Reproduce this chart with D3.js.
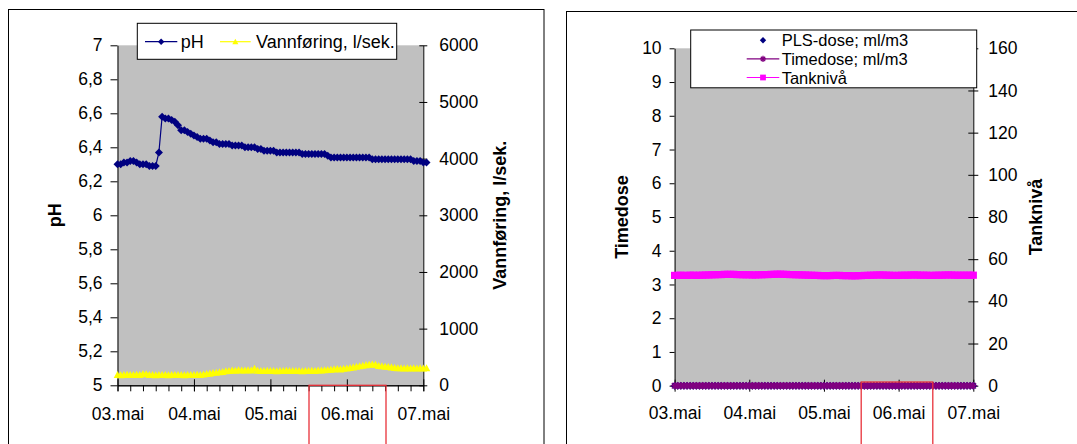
<!DOCTYPE html>
<html><head><meta charset="utf-8">
<script src="https://cdn.jsdelivr.net/npm/d3@7"></script>
<style>
body{margin:0;background:#fff;}
svg text{font-family:Arial,"Liberation Sans",sans-serif;fill:#000;}
</style>
</head><body>
<svg id="c" width="1077" height="444"></svg>
<script>
// ---- data ----
const startTime = new Date(2007, 4, 3, 0, 0);   // first hourly reading 03.mai 00:00
const dayLabels = ["03.mai", "04.mai", "05.mai", "06.mai", "07.mai"];
const phTicks = [5, 5.2, 5.4, 5.6, 5.8, 6, 6.2, 6.4, 6.6, 6.8, 7];
const flowTicks = [0, 1000, 2000, 3000, 4000, 5000, 6000];
const doseTicks = [0, 1, 2, 3, 4, 5, 6, 7, 8, 9, 10];
const tankTicks = [0, 20, 40, 60, 80, 100, 120, 140, 160];

const phValues = [6.30,6.30,6.31,6.31,6.32,6.32,6.31,6.30,6.30,6.30,
 6.29,6.29,6.29,6.37,6.58,6.57,6.57,6.56,6.55,6.53,
 6.50,6.50,6.49,6.48,6.47,6.46,6.45,6.45,6.45,6.44,
 6.43,6.43,6.42,6.42,6.42,6.42,6.41,6.41,6.41,6.41,
 6.40,6.40,6.40,6.40,6.39,6.39,6.38,6.38,6.38,6.38,
 6.37,6.37,6.37,6.37,6.37,6.37,6.37,6.37,6.36,6.36,
 6.36,6.36,6.36,6.36,6.36,6.36,6.35,6.34,6.34,6.34,
 6.34,6.34,6.34,6.34,6.34,6.34,6.34,6.34,6.34,6.34,
 6.33,6.33,6.33,6.33,6.33,6.33,6.33,6.33,6.33,6.33,
 6.33,6.33,6.33,6.32,6.32,6.32,6.31,6.31];

const flowValues = [185,180,185,190,185,185,190,185,205,200,
 185,185,180,185,185,185,180,185,185,185,185,180,185,185,185,190,185,
 195,205,210,220,225,235,240,250,255,
 265,260,270,265,265,270,265,
 295,
 260,255,255,260,255,255,250,255,255,260,255,255,255,255,250,255,255,260,255,
 265,265,270,275,280,285,290,285,
 295,300,310,320,330,340,350,
 360,365,370,365,
 345,340,330,325,320,
 310,305,305,300,305,300,305,300,305,300,305];

const plsDose = [0,0,0,0,0,0,0,0,0,0,0,0,0,0,0,0,0,0,0,0,0,0,0,0,0,0,0,0,0,0,0,0,0,0,0,0,0,0,0,0,0,0,0,0,0,0,0,0,0,
 0,0,0,0,0,0,0,0,0,0,0,0,0,0,0,0,0,0,0,0,0,0,0,0,0,0,0,0,0,0,0,0,0,0,0,0,0,0,0,0,0,0,0,0,0,0,0,0];
const timeDose = [0,0,0,0,0,0,0,0,0,0,0,0,0,0,0,0,0,0,0,0,0,0,0,0,0,0,0,0,0,0,0,0,0,0,0,0,0,0,0,0,0,0,0,0,0,0,0,0,0,
 0,0,0,0,0,0,0,0,0,0,0,0,0,0,0,0,0,0,0,0,0,0,0,0,0,0,0,0,0,0,0,0,0,0,0,0,0,0,0,0,0,0,0,0,0,0,0,0];
const tankLevel = [52.3,52.3,52.4,52.3,52.3,52.4,52.4,52.3,52.4,52.4,
 52.5,52.5,52.6,52.6,52.7,52.7,52.8,52.8,52.8,52.8,
 52.7,52.7,52.6,52.6,52.6,52.5,52.5,52.6,52.6,52.7,
 52.7,52.8,52.8,52.9,52.9,52.8,52.8,52.7,52.7,52.6,
 52.6,52.5,52.5,52.4,52.4,52.3,52.3,52.2,52.2,52.2,
 52.2,52.3,52.3,52.3,52.2,52.2,52.2,52.1,52.1,52.2,
 52.2,52.3,52.3,52.4,52.4,52.5,52.5,52.5,52.4,52.4,
 52.3,52.3,52.3,52.4,52.4,52.4,52.5,52.5,52.5,52.4,
 52.4,52.4,52.3,52.3,52.4,52.4,52.4,52.5,52.5,52.5,
 52.4,52.4,52.4,52.4,52.4,52.4,52.4];

// ---- drawing ----
const svg = d3.select("#c");
const TICK_FS = "17.5px", TITLE_FS = "18px";
const fmt = v => String(v).replace(".", ",");
const tAt = i => d3.timeHour.offset(startTime, i);
const endTime = d3.timeHour.offset(startTime, 96);
const dayTimes = dayLabels.map((d, i) => d3.timeDay.offset(startTime, i));

const diamond = r => `M0,${-r}L${r},0L0,${r}L${-r},0Z`;
const triangle = r => `M0,${-r}L${r},${r*0.85}L${-r},${r*0.85}Z`;
const square = r => `M${-r},${-r}H${r}V${r}H${-r}Z`;
const asterisk = r => `M${-r},0H${r}M0,${-r}V${r}M${-r*0.72},${-r*0.72}L${r*0.72},${r*0.72}M${-r*0.72},${r*0.72}L${r*0.72},${-r*0.72}`;

function marker(p, s, k) {
  if (s.marker === "asterisk") p.attr("d", asterisk(3.8 * k)).attr("stroke", s.color).attr("stroke-width", 1.3).attr("fill", "none");
  else if (s.marker === "square") p.attr("d", square(3.6 * k)).attr("fill", s.color);
  else if (s.marker === "triangle") p.attr("d", triangle(3.8 * k)).attr("fill", s.color);
  else p.attr("d", diamond(4 * k)).attr("fill", s.color);
}

function styleAxis(g) {
  g.selectAll("text").style("font-size", TICK_FS);
  g.selectAll("line").attr("stroke", "#000");
  g.select(".domain").attr("stroke", "#000");
}

function drawChart(P) {
  const g = svg.append("g");
  // frame
  g.append("rect").attr("x", P.fx).attr("y", P.fy).attr("width", P.fw).attr("height", 480)
    .attr("fill", "#fff").attr("stroke", "#000").attr("stroke-width", 1);
  // plot area
  g.append("rect").attr("x", P.x0).attr("y", P.y0).attr("width", P.x1 - P.x0).attr("height", P.y1 - P.y0)
    .attr("fill", "#c0c0c0");
  const x = d3.scaleTime().domain([startTime, endTime]).range([P.x0, P.x1]);
  const yl = d3.scaleLinear().domain(P.lDomain).range([P.y1, P.y0]);
  const yr = d3.scaleLinear().domain(P.rDomain).range([P.y1, P.y0]);

  // left axis
  const ga = g.append("g").attr("transform", `translate(${P.x0},0)`)
    .call(d3.axisLeft(yl).tickValues(P.lTicks).tickSizeInner(P.lTick).tickSizeOuter(0).tickPadding(P.lPad).tickFormat(fmt));
  styleAxis(ga);
  // right axis (crossing ticks)
  const gr = g.append("g").attr("transform", `translate(${P.x1},0)`)
    .call(d3.axisRight(yr).tickValues(P.rTicks).tickSizeOuter(0).tickSizeInner(P.rTick).tickPadding(P.rPad).tickFormat(fmt));
  gr.selectAll(".tick line").attr("x1", -P.rTick);
  styleAxis(gr);
  // bottom axis
  if (P.minor) {
    const gm = g.append("g").attr("transform", `translate(0,${P.y1})`)
      .call(d3.axisBottom(x).ticks(d3.timeHour.every(4)).tickSizeInner(6).tickSizeOuter(0).tickFormat(""));
    styleAxis(gm);
  }
  const gb = g.append("g").attr("transform", `translate(0,${P.y1})`)
    .call(d3.axisBottom(x).tickValues(dayTimes).tickSizeInner(6).tickSizeOuter(0).tickPadding(P.bPad)
      .tickFormat((d, i) => dayLabels[i]));
  gb.selectAll(".tick line").attr("y1", -6);
  styleAxis(gb);

  // titles
  g.append("text").attr("transform", `translate(${P.lTitleX},${(P.y0 + P.y1) / 2}) rotate(-90)`)
    .attr("text-anchor", "middle").attr("dominant-baseline", "central")
    .style("font-size", TITLE_FS).style("font-weight", "bold").text(P.lTitle);
  g.append("text").attr("transform", `translate(${P.rTitleX},${(P.y0 + P.y1) / 2}) rotate(-90)`)
    .attr("text-anchor", "middle").attr("dominant-baseline", "central")
    .style("font-size", TITLE_FS).style("font-weight", "bold").text(P.rTitle);

  // series
  P.series.forEach(s => {
    const ys = s.axis === "r" ? yr : yl;
    if (s.line) {
      g.append("path").datum(s.values)
        .attr("d", d3.line().x((d, i) => x(tAt(i))).y(d => ys(d)))
        .attr("fill", "none").attr("stroke", s.color).attr("stroke-width", 1.2);
    }
    const mg = g.append("g");
    s.values.forEach((v, i) => {
      marker(mg.append("path").attr("transform", `translate(${x(tAt(i))},${ys(v)})`), s, 1);
    });
  });

  // red marker box
  g.append("rect").attr("x", P.red[0]).attr("y", P.red[1]).attr("width", P.red[2] - P.red[0]).attr("height", 120)
    .attr("fill", "none").attr("stroke", "#e8323a").attr("stroke-width", 1.3);

  // legend
  const L = P.legend;
  g.append("rect").attr("x", L.x).attr("y", L.y).attr("width", L.w).attr("height", L.h)
    .attr("fill", "#fff").attr("stroke", "#000").attr("stroke-width", 1);
  L.items.forEach(it => {
    const s = P.series[it.s];
    if (s.line) g.append("line").attr("x1", it.lx0).attr("x2", it.lx1).attr("y1", it.y).attr("y2", it.y)
      .attr("stroke", s.color).attr("stroke-width", 1.2);
    const mx = (it.lx0 + it.lx1) / 2;
    marker(g.append("path").attr("transform", `translate(${mx},${it.y})`), s, 0.8);
    g.append("text").attr("x", it.tx).attr("y", it.y).attr("dominant-baseline", "central")
      .style("font-size", L.fs).text(s.name);
  });
}

drawChart({
  fx: 8.5, fy: 9.5, fw: 535.5,
  x0: 117.5, x1: 423.3, y0: 45.3, y1: 385.3,
  lDomain: [5, 7], rDomain: [0, 6000], lTicks: phTicks, rTicks: flowTicks,
  lTick: 7, lPad: 8, rTick: 4, rPad: 12, bPad: 16, minor: true,
  lTitle: "pH", rTitle: "Vannføring, l/sek.", lTitleX: 55, rTitleX: 500,
  series: [
    { name: "Vannføring, l/sek.", values: flowValues, axis: "r", color: "#ffff00", marker: "triangle", line: true },
    { name: "pH", values: phValues, axis: "l", color: "#000080", marker: "diamond", line: true }
  ],
  red: [309, 385.3, 386],
  legend: { x: 137.3, y: 23.3, w: 259.4, h: 36, fs: "18px", items: [
    { s: 1, lx0: 145, lx1: 177.3, tx: 180.7, y: 41.7 },
    { s: 0, lx0: 220, lx1: 250.7, tx: 256, y: 41.7 }
  ]}
});

drawChart({
  fx: 566.5, fy: 11.5, fw: 600,
  x0: 674.6, x1: 973.3, y0: 48.3, y1: 385.7,
  lDomain: [0, 10], rDomain: [0, 160], lTicks: doseTicks, rTicks: tankTicks,
  lTick: 5, lPad: 8, rTick: 5, rPad: 10, bPad: 15, minor: false,
  lTitle: "Timedose", rTitle: "Tanknivå", lTitleX: 622, rTitleX: 1036,
  series: [
    { name: "PLS-dose; ml/m3", values: plsDose, axis: "l", color: "#000080", marker: "diamond", line: false },
    { name: "Timedose; ml/m3", values: timeDose, axis: "l", color: "#800080", marker: "asterisk", line: true },
    { name: "Tanknivå", values: tankLevel, axis: "r", color: "#ff00ff", marker: "square", line: true }
  ],
  red: [861.2, 382, 932.8],
  legend: { x: 690.7, y: 30, w: 286, h: 57.8, fs: "16.5px", items: [
    { s: 0, lx0: 746.7, lx1: 779.3, tx: 781.7, y: 40.3 },
    { s: 1, lx0: 746.7, lx1: 779.3, tx: 781.7, y: 58.9 },
    { s: 2, lx0: 746.7, lx1: 779.3, tx: 781.7, y: 77.5 }
  ]}
});
</script>
</body></html>
